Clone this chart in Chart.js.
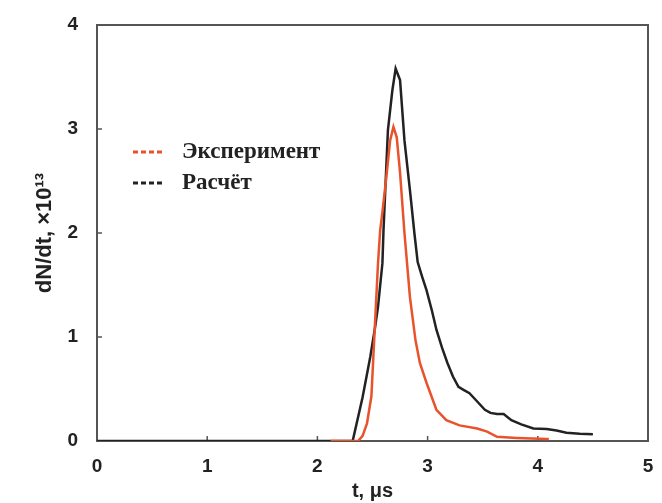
<!DOCTYPE html>
<html>
<head>
<meta charset="utf-8">
<script src="https://cdn.jsdelivr.net/npm/chart.js@4/dist/chart.umd.min.js"></script>
<style>
html,body{margin:0;padding:0;background:#fff}
#wrap{width:662px;height:503px}
</style>
</head>
<body>
<div id="wrap"><canvas id="chart"></canvas></div>
<script>
// =============================
// DATA
// =============================
const calcT = [0, 2.32, 2.41, 2.48, 2.52, 2.55, 2.59, 2.60, 2.64, 2.68, 2.71, 2.75, 2.79, 2.84, 2.88, 2.91, 2.95, 2.99, 3.04, 3.08, 3.13, 3.18, 3.23, 3.28, 3.33, 3.38, 3.45, 3.52, 3.57, 3.63, 3.69, 3.76, 3.85, 3.96, 4.08, 4.17, 4.26, 4.38, 4.50]
const calcN = [0, 0, 0.42, 0.81, 1.07, 1.29, 1.71, 2.03, 2.99, 3.37, 3.58, 3.47, 2.89, 2.41, 2.0, 1.72, 1.58, 1.45, 1.25, 1.07, 0.90, 0.75, 0.62, 0.52, 0.49, 0.46, 0.38, 0.30, 0.27, 0.26, 0.26, 0.20, 0.16, 0.12, 0.115, 0.10, 0.08, 0.07, 0.065]

const expT = [2.12, 2.37, 2.41, 2.45, 2.49, 2.52, 2.55, 2.57, 2.59, 2.63, 2.66, 2.69, 2.72, 2.75, 2.79, 2.84, 2.89, 2.93, 2.99, 3.08, 3.17, 3.29, 3.45, 3.54, 3.63, 3.81, 4.08, 4.10]
const expN = [0, 0, 0.05, 0.17, 0.43, 1.07, 1.71, 2.03, 2.20, 2.58, 2.89, 3.02, 2.92, 2.58, 2.0, 1.38, 0.97, 0.75, 0.56, 0.30, 0.20, 0.15, 0.12, 0.09, 0.04, 0.03, 0.02, 0.02]

const xTicks = [0, 1, 2, 3, 4, 5]
const yTicks = [0, 1, 2, 3, 4]
const seriesNames = ["Эксперимент", "Расчёт"]
const seriesColors = ["#e8532c", "#222222"]

function toPoints(xs, ys){
let pts = []
xs.forEach((x,i)=>pts.push({x:x, y:ys[i]}))
return pts
}

// =============================
// PLUGINS
// =============================
const frameAndTicks = {
id:"frameAndTicks",
beforeDatasetsDraw(chart){
const {ctx, chartArea:a, scales} = chart
ctx.save()
ctx.strokeStyle = "#555"
ctx.lineWidth = 2
ctx.strokeRect(a.left, a.top, a.right-a.left, a.bottom-a.top)
ctx.lineWidth = 1.5
xTicks.slice(1,-1).forEach(v=>{
let px = scales.x.getPixelForValue(v)
ctx.beginPath(); ctx.moveTo(px, a.bottom); ctx.lineTo(px, a.bottom-5); ctx.stroke()
})
yTicks.slice(1,-1).forEach(v=>{
let py = scales.y.getPixelForValue(v)
ctx.beginPath(); ctx.moveTo(a.left, py); ctx.lineTo(a.left+5, py); ctx.stroke()
})
ctx.restore()
}
}

const legendBox = {
id:"legendBox",
afterDraw(chart){
const {ctx, chartArea:a} = chart
ctx.save()
ctx.font = "bold 23px 'Liberation Serif'"
ctx.textBaseline = "middle"
seriesNames.forEach((name,i)=>{
let y = a.top + 127 + i*31
ctx.strokeStyle = seriesColors[i]
ctx.lineWidth = 3
ctx.setLineDash([5,3])
ctx.beginPath(); ctx.moveTo(a.left+36, y); ctx.lineTo(a.left+68, y); ctx.stroke()
ctx.setLineDash([])
ctx.fillStyle = "#222"
ctx.fillText(name, a.left+85, y)
})
ctx.restore()
}
}

// =============================
// CHART
// =============================
const ctx = document.getElementById("chart").getContext("2d")

new Chart(ctx,{
type:"scatter",
data:{
datasets:[{
label:seriesNames[0],
data:toPoints(expT, expN),
showLine:true,
borderColor:seriesColors[0],
borderWidth:2.5,
pointRadius:0,
order:1
},{
label:seriesNames[1],
data:toPoints(calcT, calcN),
showLine:true,
borderColor:seriesColors[1],
borderWidth:2.5,
pointRadius:0,
order:2
}]
},
options:{
responsive:true,
maintainAspectRatio:false,
animation:false,
layout:{padding:{left:0, right:14, top:25, bottom:0}},
plugins:{
legend:{display:false},
tooltip:{enabled:false}
},
scales:{
x:{
type:"linear",
min:0, max:5,
grid:{display:false, drawTicks:false},
border:{display:false},
ticks:{stepSize:1, padding:14, color:"#222", font:{family:"Liberation Sans", weight:"bold", size:19}},
title:{display:true, text:"t, μs", color:"#222", padding:{top:0, bottom:0}, font:{family:"Liberation Sans", weight:"bold", size:20}},
afterFit(scale){
scale.height = 62
scale.paddingRight = 0
scale.paddingLeft = 0
}
},
y:{
min:0, max:4,
grid:{display:false, drawTicks:false},
border:{display:false},
ticks:{stepSize:1, padding:19, color:"#222", font:{family:"Liberation Sans", weight:"bold", size:19}},
title:{display:true, text:"dN/dt, ×10¹³", color:"#222", padding:{top:32, bottom:0}, font:{family:"Liberation Sans", weight:"bold", size:22}},
afterFit(scale){
scale.width = 97
scale.paddingTop = 0
scale.paddingBottom = 0
}
}
}
},
plugins:[frameAndTicks, legendBox]
})
</script>
</body>
</html>
